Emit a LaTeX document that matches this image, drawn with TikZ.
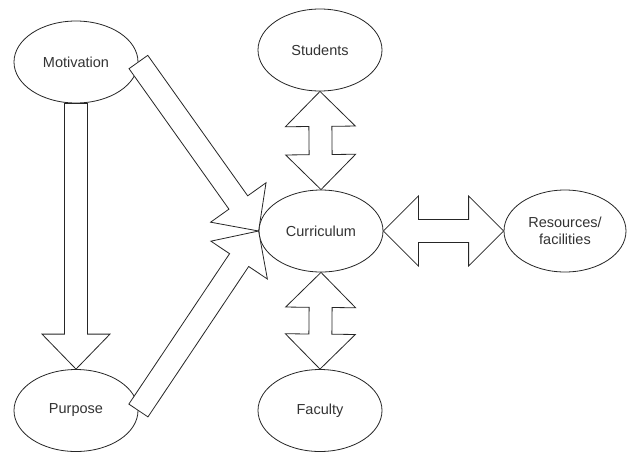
\documentclass[tikz,border=0pt]{standalone}
\usepackage{fontspec}
\setmainfont{Liberation Sans}
\usetikzlibrary{shapes.geometric,calc}
\tikzset{
  bubble/.style={draw=black!85, line width=0.8pt, ellipse, minimum width=124pt, minimum height=82pt, inner sep=0pt, align=center, text=black!80, font=\fontsize{14.5}{17}\selectfont},
  arrowbox/.style={draw=black!85, line width=0.8pt, fill=white, line join=miter}
}
% single block arrow from #1 (tail) to #2 (tip)
\newcommand\blockarrow[2]{%
  \coordinate (hb) at ($(#2)!35pt!(#1)$);
  \path[arrowbox] ($(#1)!11.5pt!90:(#2)$) -- ($(hb)!11.5pt!90:(#2)$) -- ($(hb)!34pt!90:(#2)$) -- (#2)
    -- ($(hb)!34pt!-90:(#2)$) -- ($(hb)!11.5pt!-90:(#2)$) -- ($(#1)!11.5pt!-90:(#2)$) -- cycle;
}
% double block arrow between #1 and #2
\newcommand\dblarrow[2]{%
  \coordinate (ha) at ($(#1)!35pt!(#2)$);
  \coordinate (hb) at ($(#2)!35pt!(#1)$);
  \path[arrowbox] (#1) -- ($(ha)!35pt!90:(#2)$) -- ($(ha)!11.5pt!90:(#2)$) -- ($(hb)!11.5pt!90:(#2)$)
    -- ($(hb)!35pt!90:(#2)$) -- (#2) -- ($(hb)!35pt!-90:(#2)$) -- ($(hb)!11.5pt!-90:(#2)$)
    -- ($(ha)!11.5pt!-90:(#2)$) -- ($(ha)!35pt!-90:(#2)$) -- cycle;
}
\begin{document}
\begin{tikzpicture}[x=1pt,y=-1pt]
\useasboundingbox (0,0) rectangle (627,451);
\fill[white] (0,0) rectangle (627,451);
\node[bubble] (Motivation) at (76,62) {Motivation};
\node[bubble] (Purpose) at (76,410.5) {Purpose};
\node[bubble] (Students) at (320,50) {Students};
\node[bubble] (Curriculum) at (321,231) {Curriculum};
\node[bubble] (Faculty) at (320,410.5) {Faculty};
\node[bubble, minimum width=122pt] (Resources) at (565,231) {Resources/\\facilities};
\blockarrow{Motivation.south}{Purpose.north}
\blockarrow{Motivation.east}{Curriculum.west}
\blockarrow{Purpose.east}{Curriculum.west}
\dblarrow{Students.south}{Curriculum.north}
\dblarrow{Curriculum.south}{Faculty.north}
\dblarrow{Curriculum.east}{Resources.west}
\end{tikzpicture}
\end{document}
